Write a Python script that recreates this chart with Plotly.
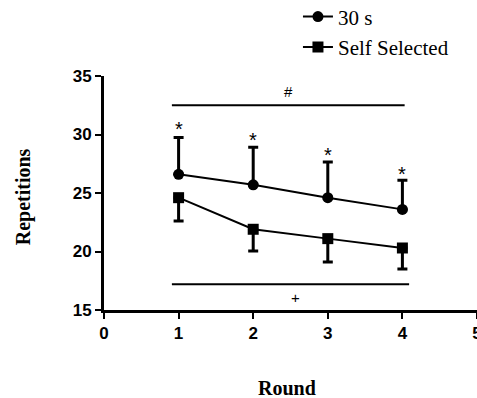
import plotly.graph_objects as go

rounds = [1, 2, 3, 4]
thirty_s = [26.6, 25.7, 24.6, 23.6]
thirty_s_sd = [3.15, 3.2, 3.05, 2.5]
self_sel = [24.6, 21.9, 21.1, 20.3]
self_sel_sd = [2.0, 1.85, 2.0, 1.8]

star_y = [30.8, 29.9, 28.6, 27.0]
sig_top = dict(x0=0.91, x1=4.03, y=32.5, label="#", lx=2.47, ly=33.7)
sig_bot = dict(x0=0.91, x1=4.09, y=17.2, label="+", lx=2.57, ly=16.1)

fig = go.Figure()
fig.add_trace(go.Scatter(
    x=rounds, y=thirty_s, name="30 s", mode="lines+markers",
    line=dict(color="black", width=2),
    marker=dict(symbol="circle", size=11, color="black"),
    error_y=dict(type="data", array=thirty_s_sd, arrayminus=[0]*4, symmetric=False,
                 color="black", thickness=3, width=5),
))
fig.add_trace(go.Scatter(
    x=rounds, y=self_sel, name="Self Selected", mode="lines+markers",
    line=dict(color="black", width=2),
    marker=dict(symbol="square", size=11, color="black"),
    error_y=dict(type="data", array=[0]*4, arrayminus=self_sel_sd, symmetric=False,
                 color="black", thickness=3, width=5),
))

shapes = []
annotations = []
for s in (sig_top, sig_bot):
    shapes.append(dict(type="line", xref="x", yref="y", x0=s["x0"], x1=s["x1"],
                       y0=s["y"], y1=s["y"], line=dict(color="black", width=2)))
    annotations.append(dict(x=s["lx"], y=s["ly"], xref="x", yref="y", text=s["label"],
                            showarrow=False, font=dict(family="Liberation Sans", size=15, color="#000000")))
for xr, ys in zip(rounds, star_y):
    annotations.append(dict(x=xr, y=ys, xref="x", yref="y", text="*", showarrow=False, yshift=-4,
                            font=dict(family="Liberation Sans", size=20, color="#000000")))

annotations.append(dict(x=-0.215, y=0.485, xref="paper", yref="paper", text="<b>Repetitions</b>",
                        textangle=-90, showarrow=False, xanchor="center", yanchor="middle",
                        font=dict(family="Liberation Serif", size=20, color="black")))
annotations.append(dict(x=0.49, y=-0.333, xref="paper", yref="paper", text="<b>Round</b>",
                        showarrow=False, xanchor="center", yanchor="middle",
                        font=dict(family="Liberation Serif", size=20, color="black")))

fig.update_layout(
    width=477, height=398,
    margin=dict(l=104, r=0, t=76, b=88, autoexpand=False),
    paper_bgcolor="white", plot_bgcolor="white",
    showlegend=True,
    legend=dict(x=0.52, y=1.34, xref="paper", yref="paper", xanchor="left", yanchor="top",
                font=dict(family="Liberation Serif", size=21, color="black"),
                bgcolor="rgba(0,0,0,0)", tracegroupgap=0, itemwidth=30),
    shapes=shapes, annotations=annotations,
)
fig.update_xaxes(range=[0, 5], tickvals=[0, 1, 2, 3, 4, 5], showgrid=False, zeroline=False,
                 showline=True, linecolor="black", linewidth=3,
                 ticks="outside", ticklen=6, tickwidth=2, tickcolor="black", ticklabeloverflow="allow",
                 tickfont=dict(family="Liberation Sans", size=17, color="black", weight="bold"))
fig.update_yaxes(range=[15, 35], tickvals=[15, 20, 25, 30, 35], showgrid=False, zeroline=False,
                 showline=True, linecolor="black", linewidth=3,
                 ticks="outside", ticklen=6, tickwidth=2, tickcolor="black",
                 tickfont=dict(family="Liberation Sans", size=17, color="black", weight="bold"))

fig.write_html("out.html", config={"displayModeBar": False},
               post_script="document.body.style.margin='0px';document.body.style.overflow='hidden';")
